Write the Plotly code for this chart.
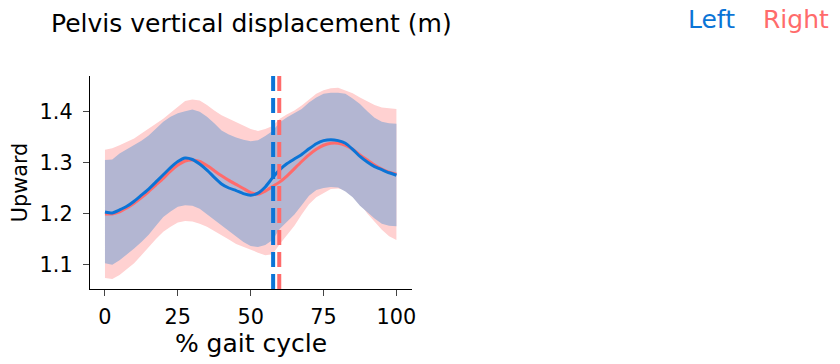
import plotly.graph_objects as go

pct = [i * 2.5 for i in range(41)]

left_mean = [1.203, 1.201, 1.207, 1.214, 1.224, 1.236, 1.248, 1.262, 1.276, 1.290,
             1.302, 1.309, 1.306, 1.297, 1.285, 1.271, 1.258, 1.250, 1.245, 1.239,
             1.236, 1.240, 1.252, 1.270, 1.286, 1.298, 1.307, 1.316, 1.327, 1.337,
             1.343, 1.345, 1.343, 1.338, 1.326, 1.312, 1.301, 1.292, 1.286, 1.280, 1.275]
right_mean = [1.199, 1.199, 1.203, 1.211, 1.220, 1.231, 1.243, 1.256, 1.269, 1.283,
              1.295, 1.303, 1.305, 1.302, 1.294, 1.284, 1.274, 1.265, 1.257, 1.249,
              1.241, 1.238, 1.244, 1.253, 1.262, 1.274, 1.288, 1.302, 1.315, 1.326,
              1.334, 1.338, 1.338, 1.334, 1.326, 1.315, 1.305, 1.295, 1.287, 1.281, 1.277]
right_upper = [1.325, 1.328, 1.334, 1.340, 1.347, 1.357, 1.367, 1.377, 1.386, 1.398,
               1.409, 1.421, 1.424, 1.422, 1.413, 1.402, 1.393, 1.386, 1.380, 1.373,
               1.366, 1.362, 1.366, 1.372, 1.386, 1.395, 1.402, 1.412, 1.424, 1.435,
               1.442, 1.446, 1.447, 1.442, 1.436, 1.428, 1.421, 1.413, 1.408, 1.406, 1.405]
right_lower = [1.073, 1.071, 1.079, 1.090, 1.102, 1.118, 1.135, 1.150, 1.164, 1.174,
               1.182, 1.185, 1.184, 1.180, 1.174, 1.166, 1.158, 1.149, 1.140, 1.134,
               1.128, 1.123, 1.118, 1.120, 1.140, 1.158, 1.176, 1.198, 1.218, 1.232,
               1.240, 1.248, 1.249, 1.246, 1.235, 1.220, 1.200, 1.184, 1.168, 1.155, 1.148]
left_upper = [1.305, 1.306, 1.318, 1.326, 1.334, 1.343, 1.353, 1.367, 1.380, 1.390,
              1.397, 1.401, 1.404, 1.400, 1.390, 1.377, 1.363, 1.355, 1.349, 1.345,
              1.342, 1.344, 1.352, 1.362, 1.379, 1.389, 1.397, 1.405, 1.418, 1.428,
              1.435, 1.437, 1.437, 1.435, 1.426, 1.415, 1.401, 1.388, 1.380, 1.377, 1.376]
left_lower = [1.102, 1.099, 1.108, 1.119, 1.131, 1.144, 1.158, 1.176, 1.193, 1.204,
              1.213, 1.216, 1.215, 1.209, 1.198, 1.187, 1.177, 1.165, 1.154, 1.144,
              1.136, 1.134, 1.138, 1.148, 1.170, 1.185, 1.198, 1.216, 1.235, 1.246,
              1.250, 1.252, 1.251, 1.243, 1.232, 1.215, 1.203, 1.190, 1.180, 1.176, 1.175]

left_toe_off = 57.7
right_toe_off = 59.8

x_ticks = [0, 25, 50, 75, 100]
y_ticks = [1.1, 1.2, 1.3, 1.4]
y_tick_labels = ["1.1", "1.2", "1.3", "1.4"]

BLUE = "#0b74d6"
RED = "#ff6b6b"
PINK_FILL = "#ffd1d1"
BLUE_FILL = "#b3b6d2"
FONT = "DejaVu Sans"

fig = go.Figure()
fig.add_trace(go.Scatter(x=pct, y=right_upper, mode="lines", line=dict(width=0, color=PINK_FILL),
                         showlegend=False, hoverinfo="skip"))
fig.add_trace(go.Scatter(x=pct, y=right_lower, mode="lines", line=dict(width=0, color=PINK_FILL),
                         fill="tonexty", fillcolor=PINK_FILL, showlegend=False, hoverinfo="skip"))
fig.add_trace(go.Scatter(x=pct, y=left_upper, mode="lines", line=dict(width=0, color=BLUE_FILL),
                         showlegend=False, hoverinfo="skip"))
fig.add_trace(go.Scatter(x=pct, y=left_lower, mode="lines", line=dict(width=0, color=BLUE_FILL),
                         fill="tonexty", fillcolor=BLUE_FILL, showlegend=False, hoverinfo="skip"))
fig.add_trace(go.Scatter(x=pct, y=right_mean, mode="lines", line=dict(width=3, color=RED, shape="spline", smoothing=0.5),
                         name="Right", showlegend=False))
fig.add_trace(go.Scatter(x=pct, y=left_mean, mode="lines", line=dict(width=3, color=BLUE, shape="spline", smoothing=0.5),
                         name="Left", showlegend=False))

for xv, col in [(left_toe_off, BLUE), (right_toe_off, RED)]:
    fig.add_shape(type="line", xref="x", yref="y domain", x0=xv, x1=xv, y0=0, y1=1,
                  line=dict(color=col, width=4, dash="15px,7px"), layer="above")

fig.add_annotation(text="Pelvis vertical displacement (m)", xref="paper", yref="paper",
                   x=-0.128, y=1.0, xanchor="left", yanchor="middle", yshift=53, showarrow=False,
                   font=dict(family=FONT, size=25, color="black"))
fig.add_annotation(text="Left", xref="paper", yref="paper", x=1.930, y=1.0, xanchor="center",
                   yanchor="middle", yshift=57, showarrow=False, font=dict(family=FONT, size=25, color=BLUE))
fig.add_annotation(text="Right", xref="paper", yref="paper", x=2.193, y=1.0, xanchor="center",
                   yanchor="middle", yshift=57, showarrow=False, font=dict(family=FONT, size=25, color=RED))

fig.update_layout(
    width=840, height=364,
    margin=dict(l=90, r=428, t=76, b=75),
    paper_bgcolor="white", plot_bgcolor="white",
    font=dict(family=FONT, color="black"),
    showlegend=False,
    xaxis=dict(range=[-5.14, 105.35], tickvals=x_ticks, ticks="outside", ticklen=6, tickwidth=1.3,
               showline=True, linecolor="black", linewidth=1.3, showgrid=False, zeroline=False,
               ticklabelstandoff=3,
               tickfont=dict(size=20.8), title=dict(text="% gait cycle", font=dict(size=25), standoff=4)),
    yaxis=dict(range=[1.0516, 1.470], tickvals=y_ticks, ticktext=y_tick_labels, ticks="outside",
               ticklen=6, tickwidth=1.3, showline=True, linecolor="black", linewidth=1.3,
               showgrid=False, zeroline=False, tickfont=dict(size=20.8), ticklabelstandoff=6,
               title=dict(text="Upward", font=dict(size=20.8), standoff=6)),
)

fig.write_html("out.html", config={"displayModeBar": False},
               post_script="document.body.style.margin='0';document.body.style.overflow='hidden';")
